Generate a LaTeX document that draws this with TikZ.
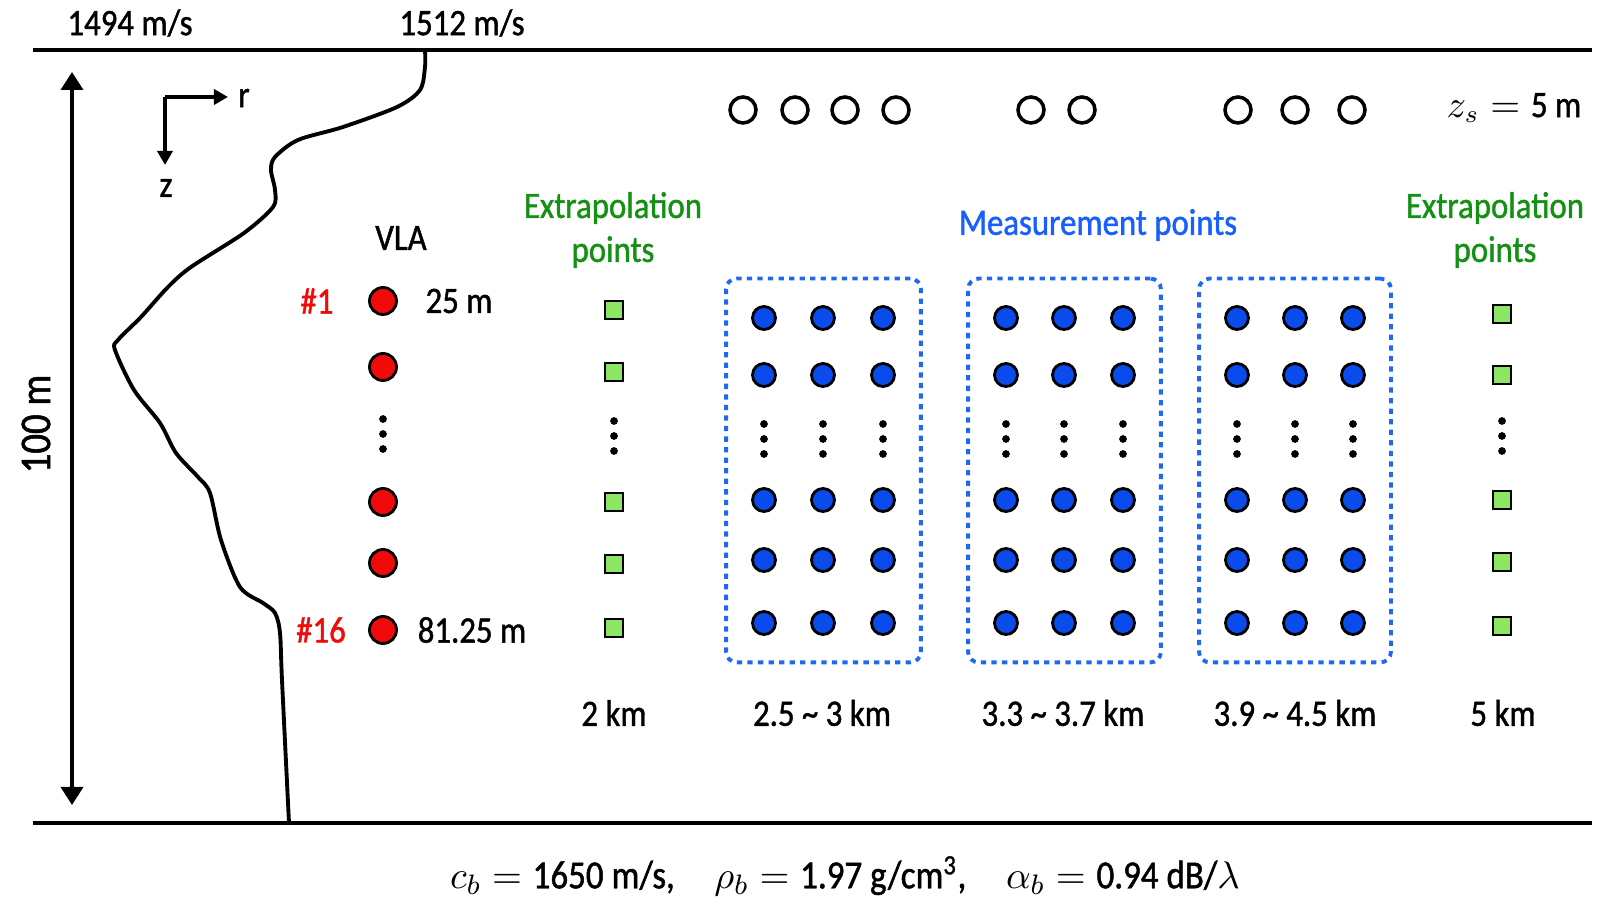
\documentclass[tikz,border=0pt]{standalone}
\usepackage{fontspec}
\setmainfont{Carlito}[FakeStretch=0.88, FakeBold=1.2]
\usepackage{tikz}
\usetikzlibrary{arrows.meta, positioning, fit}
\definecolor{cRed}{RGB}{240,10,10}
\definecolor{cBlue}{RGB}{10,75,235}
\definecolor{cDot}{RGB}{30,105,240}
\definecolor{cText}{RGB}{25,95,255}
\definecolor{cGreen}{RGB}{20,145,20}
\definecolor{cLime}{RGB}{140,230,100}
\tikzset{
	src/.style   ={circle, draw=black, line width=1pt, minimum size=0.26cm, inner sep=0pt},
	vla/.style   ={circle, draw=black, line width=0.8pt, fill=cRed, minimum size=0.27cm, inner sep=0pt},
	meas/.style  ={circle, draw=black, line width=0.8pt, fill=cBlue, minimum size=0.23cm, inner sep=0pt},
	extr/.style  ={rectangle, draw=black, line width=0.7pt, fill=cLime, minimum size=0.18cm, inner sep=0pt},
	grp/.style   ={rectangle, draw=cDot, line width=1.1pt, dash pattern=on 1.5pt off 1.5pt, rounded corners=3pt, inner xsep=0.25cm, inner ysep=0.265cm},
	bnd/.style   ={line width=1.2pt},
	ssp/.style   ={line width=1.1pt, line join=round},
	dimarr/.style={{Triangle[length=1.8mm,width=2.2mm]}-{Triangle[length=1.8mm,width=2.2mm]}, line width=1pt},
	axarr/.style ={-{Triangle[length=1.4mm,width=1.5mm]}, line width=1pt},
}
% three stacked dots
\newcommand{\vdotcol}[2]{\foreach \dy in {-15,0,15} \fill (#1,#2+\dy) circle (1.1pt);}

\begin{document}
\begin{tikzpicture}[x=0.01cm, y=-0.01cm, font=\fontsize{10.6}{12.5}\selectfont]
	\useasboundingbox (0,0) rectangle (1620,904);
	% surface and bottom
	\coordinate (sl) at (33,50);  \coordinate (sr) at (1592,50);
	\coordinate (bl) at (33,823); \coordinate (br) at (1592,823);
	\draw[bnd] (sl) -- (sr);
	\draw[bnd] (bl) -- (br);
	\node (cmin) at (130,23) {1494 m/s};
	\node (cmax) at (462,23) {1512 m/s};
	% sound speed profile
	\draw[ssp] plot[smooth, tension=0.5] coordinates {(425,50) (425,67) (420,90) (397,107) (343,127) (298,140) (275,157) (271,170) (275,190) (273,207) (244,233) (191,267) (168,287) (141,317) (118,340) (115,350) (134,390) (160,423) (176,453) (198,477) (210,493) (221,540) (240,587) (263,603) (275,613) (280,633) (282,680) (289,823)};
	% depth
	\coordinate (dtop) at (72,72);
	\coordinate (dbot) at (72,805);
	\draw[dimarr] (dtop) -- (dbot);
	\node[rotate=90, font=\fontsize{12.5}{14}\selectfont] (depth) at (36,424) {100 m};
	% r-z axes
	\coordinate (ax0) at (165,97);
	\coordinate (axr) at (228,97);
	\coordinate (axz) at (165,165);
	\draw[axarr] (ax0) -- (axr);
	\draw[axarr] (ax0) -- (axz);
	\node (rlbl) at (244,98) {r};
	\node (zlbl) at (166,188) {z};
	% sources
	\foreach \x [count=\i] in {743,795,845,896,1031,1082,1238,1295,1352}
		\node[src] (s\i) at (\x,110) {};
	\node (zs) at (1514,108) {$z_s={}$5 m};
	% VLA
	\node (vlalbl) at (401,238) {VLA};
	\foreach \y [count=\i] in {301,367,502,563,630}
		\node[vla] (v\i) at (383,\y) {};
	\vdotcol{383}{434}
	\node[text=cRed] (n1) at (317,301) {\#1};
	\node[text=cRed] (n16) at (321,630) {\#16};
	\node (d1) at (459,301) {25 m};
	\node (d16) at (472,630) {81.25 m};
	% extrapolation points
	\node[text=cGreen, align=center] (elbl) at (613,230) {Extrapolation\\points};
	\foreach \y [count=\i] in {310,372,502,564,628}
		\node[extr] (el\i) at (614,\y) {};
	\vdotcol{614}{436}
	\node[text=cGreen, align=center] (erlbl) at (1495,230) {Extrapolation\\points};
	\foreach \y [count=\i] in {314,375,500,562,626}
		\node[extr] (er\i) at (1502,\y) {};
	\vdotcol{1502}{436}
	% measurement points
	\node[text=cText] (mlbl) at (1098,225) {Measurement points};
	\foreach \g/\xa/\xb/\xc in {a/764/823/883, b/1006/1064/1123, c/1237/1295/1353}{
		\foreach \x [count=\c] in {\xa,\xb,\xc}{
			\foreach \y [count=\r] in {318,375,500,560,623}
				\node[meas] (m\g\c\r) at (\x,\y) {};
			\vdotcol{\x}{439}
		}
	}
	\node[grp, fit=(ma11)(ma35)] (boxa) {};
	\node[grp, fit=(mb11)(mb35)] (boxb) {};
	\node[grp, fit=(mc11)(mc35)] (boxc) {};
	% ranges
	\node (r1) at (614,713) {2 km};
	\node (r2) at (822,713) {2.5 \textasciitilde{} 3 km};
	\node (r3) at (1063,713) {3.3 \textasciitilde{} 3.7 km};
	\node (r4) at (1295,713) {3.9 \textasciitilde{} 4.5 km};
	\node (r5) at (1503,713) {5 km};
	% bottom parameters
	\node[font=\fontsize{11.3}{13}\selectfont] (bot) at (845,876) {$c_b={}$1650 m/s,\quad $\rho_b={}$1.97 g/cm\textsuperscript{3},\quad $\alpha_b={}$0.94 dB/$\lambda$};
\end{tikzpicture}
\end{document}
